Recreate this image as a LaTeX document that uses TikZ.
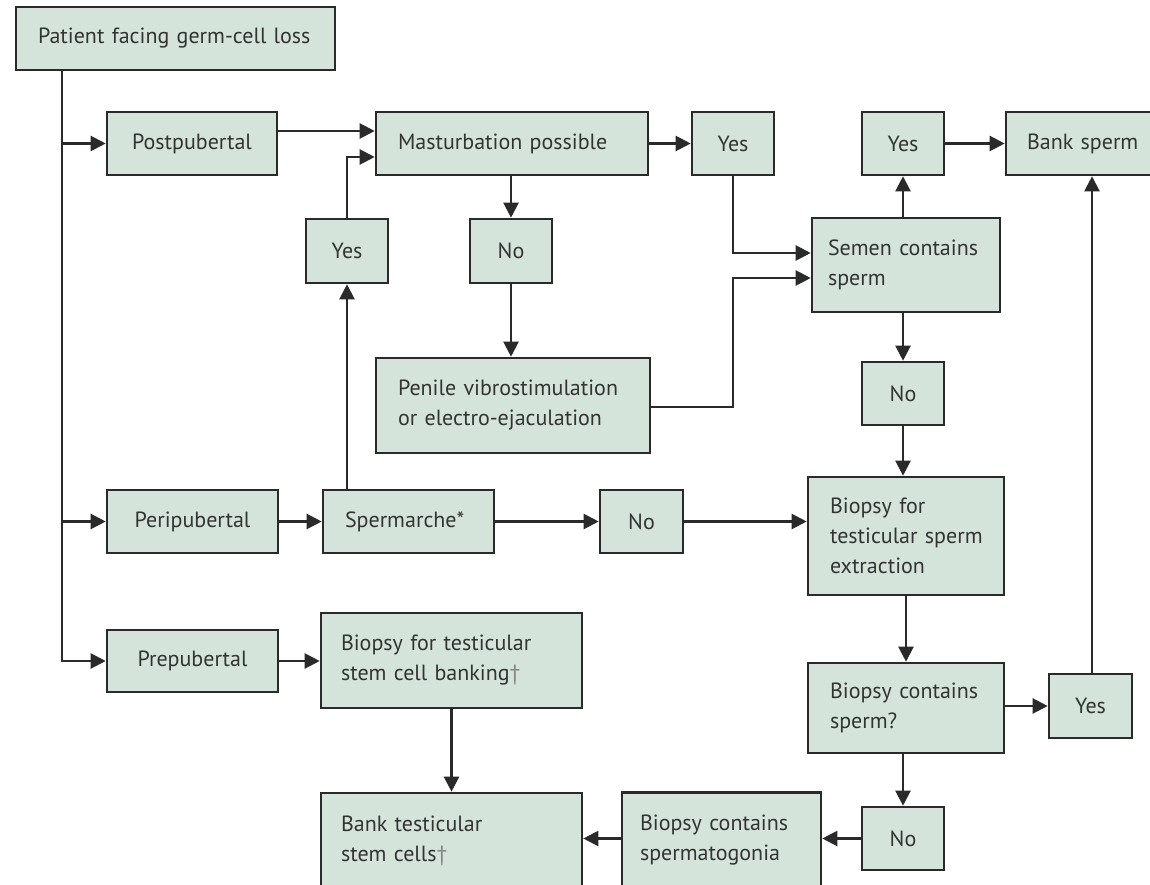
\documentclass[tikz,border=0pt]{standalone}
\usepackage{fontspec}
\setmainfont{PT Sans}
\usetikzlibrary{arrows.meta}
\definecolor{boxfill}{HTML}{D4E4DB}
\definecolor{boxline}{HTML}{2A2A2A}
\definecolor{txt}{HTML}{333333}
\begin{document}
\begin{tikzpicture}[x=1pt,y=-1pt,
 box/.style={draw=boxline, line width=2.6pt, fill=boxfill, text=txt, font=\fontsize{22}{30}\selectfont, inner ysep=0pt, minimum height=63pt},
 lb/.style={box, align=left, inner xsep=22pt},
 cb/.style={box, align=center, inner xsep=0pt},
 arr/.style={line width=2.2pt, draw=boxline, -{Triangle[length=15pt,width=15pt]}},
 ln/.style={line width=2.2pt, draw=boxline}]
\useasboundingbox (0,0) rectangle (1150,885);
\clip (0,0) rectangle (1150,885);
\fill[white] (0,0) rectangle (1150,885);
% nodes
\node[lb, text width=275pt] (pat) at (175.5,38.5) {Patient facing germ-cell loss};
\node[cb, text width=170pt] (post) at (192,143.5) {Postpubertal};
\node[lb, text width=228pt] (mast) at (512,143.5) {Masturbation possible};
\node[cb, text width=82pt] (yes1) at (733,143.5) {Yes};
\node[cb, text width=82pt] (yes2) at (903,143.5) {Yes};
\node[lb, inner xsep=21pt, text width=112pt] (bank) at (1083,143.5) {Bank sperm};
\node[lb, inner xsep=16pt, text width=156pt, minimum height=94pt] (sem) at (906,265) {\mbox{Semen contains}\\sperm};
\node[cb, text width=82pt, minimum height=64pt] (yes0) at (347,251) {Yes};
\node[cb, text width=82pt, minimum height=64pt] (no0) at (511,251) {No};
\node[lb, text width=230pt, minimum height=95pt] (pen) at (513,405.5) {\mbox{Penile vibrostimulation}\\\mbox{or electro-ejaculation}};
\node[cb, text width=82pt] (no2) at (903,393.5) {No};
\node[cb, text width=171pt] (peri) at (192.5,521.5) {Peripubertal};
\node[lb, text width=127pt] (sperm) at (408.5,521.5) {Spermarche*};
\node[cb, text width=83pt] (no1) at (641.5,521.5) {No};
\node[lb, text width=152pt, minimum height=118pt] (tse) at (906,536) {Biopsy for\\\mbox{testicular sperm}\\extraction};
\node[cb, text width=171pt, minimum height=62pt] (prep) at (192.5,661) {Prepubertal};
\node[lb, inner xsep=20pt, text width=221pt, minimum height=95pt] (bstem) at (451.5,660.5) {\mbox{Biopsy for testicular}\\\mbox{stem cell banking{\color{txt!60}†}}};
\node[lb, text width=152pt, minimum height=90pt] (bcs) at (906,708) {\mbox{Biopsy contains}\\sperm?};
\node[cb, text width=83pt, minimum height=64pt] (yes3) at (1090.5,706) {Yes};
\node[lb, inner xsep=20pt, text width=221pt, minimum height=96pt] (bts) at (451.5,841) {Bank testicular\\stem cells{\color{txt!60}†}};
\node[lb, inner xsep=18pt, text width=163pt, minimum height=96pt] (spg) at (721.5,840.5) {\mbox{Biopsy contains}\\spermatogonia};
\node[cb, text width=82pt, minimum height=63pt] (no3) at (903,838.5) {No};
% helper coordinates
\coordinate (t0) at (62,0);
\coordinate (r1) at (0,131);
\coordinate (r2) at (0,157);
\coordinate (r3) at (0,253);
\coordinate (r4) at (0,278);
\coordinate (r5) at (0,407);
\coordinate (c6) at (1092,0);
% connectors
\draw[arr] (t0 |- pat.south) |- (post.west);
\draw[arr] (t0 |- pat.south) |- (peri.west);
\draw[arr] (t0 |- pat.south) |- (prep.west);
\draw[arr] (post.east |- r1) -- (mast.west |- r1);
\draw[arr] (yes0.south |- sperm.north) -- (yes0.south);
\draw[arr] (yes0.north) |- (mast.west |- r2);
\draw[arr] (no0.north |- mast.south) -- (no0.north);
\draw[arr] (no0.south) -- (no0.south |- pen.north);
\draw[arr] (mast.east) -- (yes1.west);
\draw[arr] (yes1.south) |- (sem.west |- r3);
\draw[arr] (pen.east |- r5) -| (yes1.south |- r4) -- (sem.west |- r4);
\draw[arr] (yes2.south |- sem.north) -- (yes2.south);
\draw[arr] (yes2.east) -- (bank.west);
\draw[arr] (no2.north |- sem.south) -- (no2.north);
\draw[arr] (no2.south) -- (no2.south |- tse.north);
\draw[arr] (peri.east) -- (sperm.west);
\draw[arr] (sperm.east) -- (no1.west);
\draw[arr] (no1.east) -- (tse.west |- no1.east);
\draw[arr] (prep.east) -- (bstem.west |- prep.east);
\draw[arr] (bstem.south) -- (bts.north);
\draw[arr] (tse.south) -- (bcs.north);
\draw[arr] (bcs.east |- yes3.west) -- (yes3.west);
\draw[arr] (yes3.north -| c6) -- (bank.south -| c6);
\draw[arr] (no3.north |- bcs.south) -- (no3.north);
\draw[arr] (no3.west) -- (spg.east |- no3.west);
\draw[arr] (spg.west |- no3.west) -- (bts.east |- no3.west);
\end{tikzpicture}
\end{document}
